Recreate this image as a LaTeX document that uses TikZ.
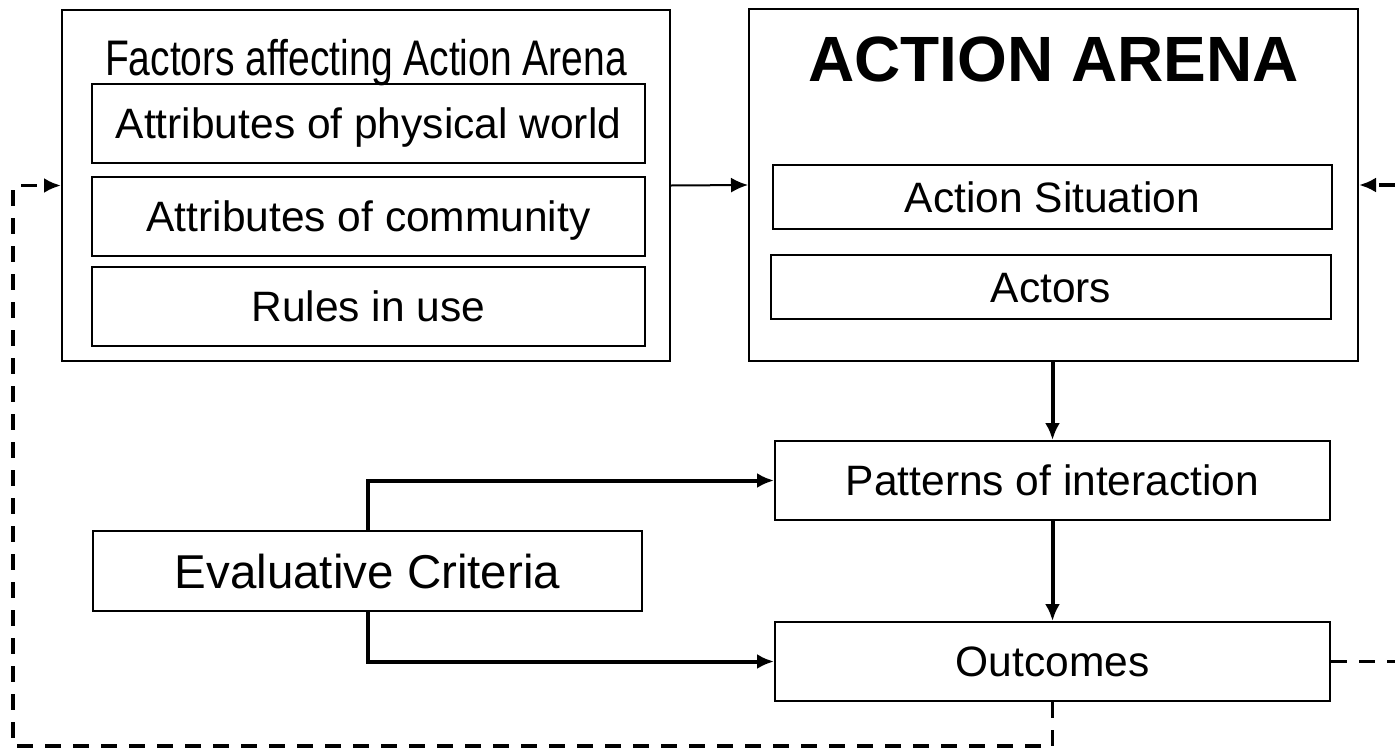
\documentclass[tikz,border=0pt]{standalone}
\usepackage{fontspec}
\setmainfont{Liberation Sans}
\newfontfamily\narrowfont[FakeStretch=0.78]{Liberation Sans}
\usetikzlibrary{arrows.meta}
\begin{document}
\begin{tikzpicture}[x=1pt,y=-1pt,
  box/.style={draw, line width=2pt, inner sep=0pt, font=\fontsize{42.5}{44}\selectfont, text height=30pt, text depth=0pt},
  titletext/.style={inner sep=0pt, text depth=0pt},
  tip/.style={-{Latex[length=17pt,width=15pt]}},
  conn/.style={line width=4pt, tip},
  thinconn/.style={line width=2pt, tip},
  fb/.style={line width=3.5pt, dash pattern=on 16pt off 12pt}
]
\useasboundingbox (0,0) rectangle (1395,750);

% Factors block
\node[box, minimum width=608pt, minimum height=351pt] (factors) at (366,185.5) {};
\node[titletext, font=\narrowfont\fontsize{50}{52}\selectfont, text height=36pt] (ftitle) at (366,57) {Factors affecting Action Arena};
\node[box, minimum width=553pt, minimum height=79pt] (phys) at (368.5,123.5) {Attributes of physical world};
\node[box, minimum width=553pt, minimum height=79pt] (comm) at (368.5,216.5) {Attributes of community};
\node[box, minimum width=553pt, minimum height=79pt] (rules) at (368.5,306.5) {Rules in use};

% Action arena block
\node[box, minimum width=609pt, minimum height=352pt] (arena) at (1053.5,185) {};
\node[titletext, font=\bfseries\fontsize{64}{66}\selectfont, text height=46pt] (atitle) at (1053.5,58.5) {ACTION ARENA};
\node[box, minimum width=559pt, minimum height=64pt] (sit) at (1052.5,197) {Action Situation};
\node[box, minimum width=560pt, minimum height=64pt] (actors) at (1051,287) {Actors};

% Lower boxes
\node[box, minimum width=555pt, minimum height=79pt] (patterns) at (1052.5,480.5) {Patterns of interaction};
\node[box, minimum width=555pt, minimum height=79pt] (outcomes) at (1052.5,661.5) {Outcomes};
\node[box, minimum width=549pt, minimum height=80pt, font=\fontsize{47.5}{50}\selectfont, text height=34pt] (eval) at (367.5,571) {Evaluative Criteria};

% Solid connectors
\draw[thinconn] (factors.east) -- (arena.west);
\draw[conn] (patterns.north |- arena.south) -- (patterns.north);
\draw[conn] (patterns.south) -- (outcomes.north);
\draw[conn] (eval.north) -- (eval.north |- patterns.west) -- (patterns.west);
\draw[conn] (eval.south) |- (outcomes.west);

% Dashed feedback connectors
\coordinate (bl) at (13,746);
\coordinate (redge) at (1395,400);
\draw[fb, tip] (outcomes.south) -- (outcomes.south |- bl) -- (bl) -- (bl |- factors.west) -- (factors.west);
\draw[fb] (outcomes.east) -- (outcomes.east -| redge);
\draw[fb, tip] (arena.east -| redge) -- (arena.east);
\end{tikzpicture}
\end{document}
